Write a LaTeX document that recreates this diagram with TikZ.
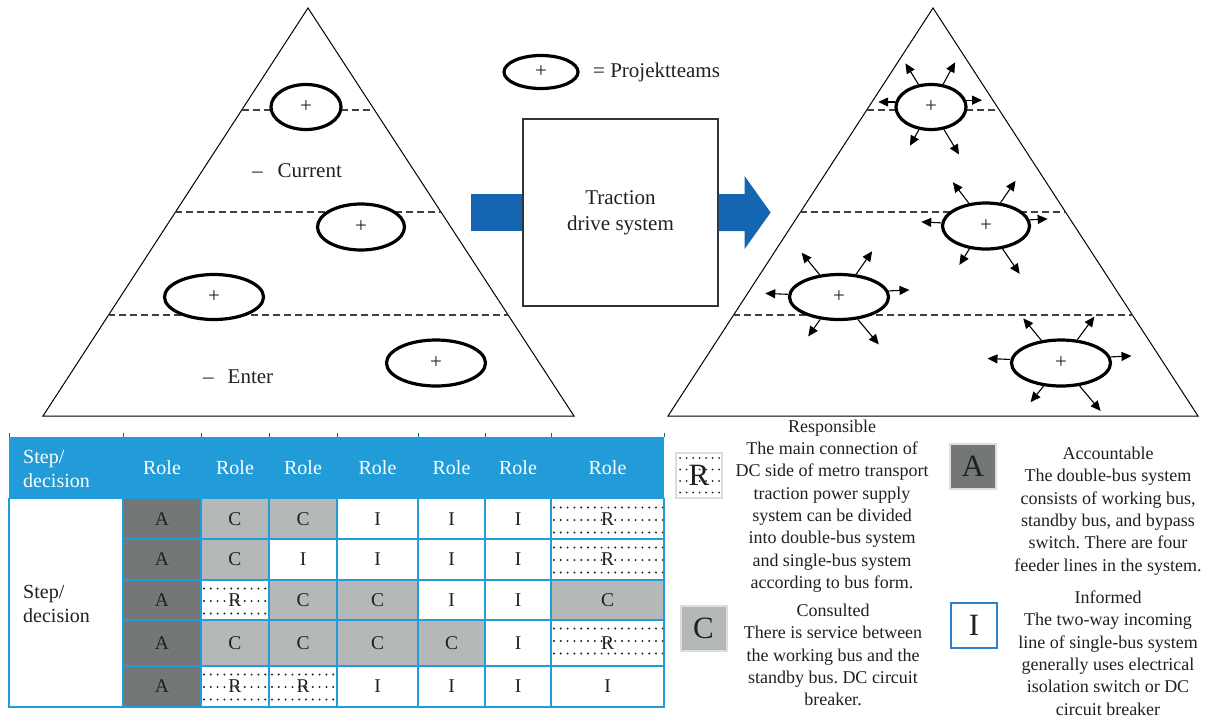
\documentclass[tikz,border=0pt]{standalone}
\usepackage{fontspec}
\setmainfont{Liberation Serif}
\usetikzlibrary{shapes.geometric,arrows.meta,calc}
\definecolor{txt}{HTML}{231F20}
\definecolor{hblue}{HTML}{219CD8}
\definecolor{ablue}{HTML}{1466B3}
\definecolor{cA}{HTML}{747778}
\definecolor{cC}{HTML}{B5B8B9}
\definecolor{iblue}{HTML}{2F7FD0}
\definecolor{lgray}{HTML}{DDDDDD}
\newcommand\fTri{\fontsize{21}{26}\selectfont}
\newcommand\fPlus{\fontsize{21}{21}\selectfont}
\newcommand\fHead{\fontsize{20}{24}\selectfont}
\newcommand\fCell{\fontsize{19.5}{22}\selectfont}
\newcommand\fLeg{\fontsize{18}{22.3}\selectfont\frenchspacing}
\newcommand\fBig{\fontsize{31}{31}\selectfont}
\begin{document}
\begin{tikzpicture}[x=1pt,y=-1pt,
  tri/.style={draw=black, line width=1, line join=miter},
  dashline/.style={draw=black!75, line width=1.4, dash pattern=on 7pt off 4pt},
  team/.style={ellipse, draw=black, line width=3.2, fill=white, inner sep=0, font=\fPlus, text=txt},
  burst/.style={draw=black, line width=1.1, -{Triangle[length=10pt,width=9pt]}},
  centerbox/.style={draw=black!80, line width=1.2, minimum width=195, minimum height=187, align=center, font=\fTri, text=txt, inner sep=0},
  plain/.style={inner sep=0, text=txt},
  tgrid/.style={draw=hblue, line width=2.6, line cap=rect},
  tcell/.style={inner sep=0, draw=none, font=\fCell, text=txt},
  cellA/.style={fill=cA},
  cellC/.style={fill=cC},
  cellI/.style={fill=white},
  cellR/.style={fill=white, path picture={
     \foreach \i in {0,...,17}{\foreach \j in {0,1,2}{
       \fill[txt] ($(path picture bounding box.north west)+(3+\i*6.8,8.5+\j*12.5)$) circle (1.1);}}}},
  dotsL/.style={path picture={
     \foreach \i in {0,...,6}{\foreach \j in {0,1,2,3}{
       \fill[txt] ($(path picture bounding box.north west)+(4+\i*6.5,5+\j*11.5)$) circle (1.0);}}}},
  lbox/.style={draw=lgray, line width=2, inner sep=0, minimum width=46, minimum height=45, font=\fBig, text=txt},
  legtxt/.style={align=center, font=\fLeg, inner sep=0, text=txt}
]
\useasboundingbox (0,0) rectangle (1207,718);

% ---------- left pyramid ----------
\draw[tri] (308,8) -- (43,416) -- (574,416) -- cycle;
\draw[dashline] (242,110) -- (374,110);
\draw[dashline] (175,212) -- (441,212);
\draw[dashline] (108,315) -- (508,315);
\node[team, minimum width=70, minimum height=45] (L1) at (306,107) {+};
\node[team, minimum width=87, minimum height=46] (L2) at (361,227) {+};
\node[team, minimum width=99, minimum height=45] (L3) at (214,297) {+};
\node[team, minimum width=99, minimum height=46] (L4) at (436,363) {+};
\node[plain, anchor=base west, font=\fTri] (cur) at (252,177) {–\hspace{15pt}Current};
\node[plain, anchor=base west, font=\fTri] (ent) at (203,383) {–\hspace{14pt}Enter};

% ---------- legend ellipse ----------
\node[team, minimum width=74, minimum height=33] (key) at (541,72) {+};
\node[plain, anchor=west, font=\fTri] (keytxt) at (593,72) {= Projektteams};

% ---------- centre box and arrows ----------
\node[centerbox] (box) at (620.5,212.5) {Traction\\drive system};
\fill[ablue] ($(box.west)+(-51,-18.5)$) rectangle ($(box.west)+(0,18.5)$);
\fill[ablue] ($(box.east)+(0,-18.5)$) -- ++(26,0) -- ++(0,-18) -- ++(26,36.5)
   -- ++(-26,36.5) -- ++(0,-18) -- ++(-26,0) -- cycle;

% ---------- right pyramid ----------
\draw[tri] (933,8) -- (668,416) -- (1198,416) -- cycle;
\draw[dashline] (867,110) -- (999,110);
\draw[dashline] (800,212) -- (1066,212);
\draw[dashline] (733,315) -- (1133,315);
\node[team, minimum width=70, minimum height=45] (R1) at (931,107) {+};
\node[team, minimum width=87, minimum height=46] (R2) at (986,226) {+};
\node[team, minimum width=99, minimum height=45] (R3) at (839,297) {+};
\node[team, minimum width=99, minimum height=46] (R4) at (1061,363) {+};
\foreach \n/\a/\dx/\dy in {
  R1/119/-13/-21, R1/62/12/-22, R1/172/-17/0, R1/11/16/0, R1/242/-9/16, R1/300/15/25,
  R2/127/-16/-21, R2/58/15/-22, R2/176/-20/-1, R2/8/18/-1, R2/234/-10/16, R2/306/17/25,
  R3/131/-18/-22, R3/53/16/-23, R3/177/-23/-1, R3/7/21/-1, R3/230/-12/17, R3/310/21/25,
  R4/131/-18/-22, R4/55/17/-23, R4/176/-23/-1, R4/7/21/-1, R4/233/-13/16, R4/309/21/25}
  \draw[burst] (\n.\a) -- ++(\dx,\dy);

% ---------- RACI table ----------
\foreach \x in {9,123,201,269,337,418,485,551,664}
  \draw[hblue!60!black, line width=0.8] (\x,433) -- (\x,437);
\fill[hblue] (9,437) rectangle (664,499);
\node[plain, anchor=west, align=left, font=\fHead, text=white] (hsd) at (23,469) {Step/\\decision};
\foreach \xl/\xr [count=\c] in {123/201,201/269,269/337,337/418,418/485,485/551,551/664}
  \node[plain, font=\fHead, text=white] (h\c) at ({(\xl+\xr)/2},468) {Role};
\fill[white] (9,499) rectangle (123,707);
\node[plain, anchor=west, align=left, font=\fHead] (bsd) at (23,604) {Step/\\decision};
\foreach \rowlist [count=\r] in {{A,C,C,I,I,I,R},{A,C,I,I,I,I,R},{A,R,C,C,I,I,C},{A,C,C,C,C,I,R},{A,R,R,I,I,I,I}}{
  \pgfmathsetmacro\yt{{499,539,580,620,666,707}[\r-1]}
  \pgfmathsetmacro\yb{{499,539,580,620,666,707}[\r]}
  \foreach \t [count=\c] in \rowlist {
    \pgfmathsetmacro\xl{{123,201,269,337,418,485,551,664}[\c-1]}
    \pgfmathsetmacro\xr{{123,201,269,337,418,485,551,664}[\c]}
    \pgfmathsetmacro\w{\xr-\xl}
    \pgfmathsetmacro\h{\yb-\yt}
    \pgfmathsetmacro\cx{(\xl+\xr)/2}
    \pgfmathsetmacro\cy{(\yt+\yb)/2}
    \node[tcell, cell\t, minimum width=\w, minimum height=\h] (c\r\c) at (\cx,\cy) {\t};
  }
}
\foreach \x in {9,123,201,269,337,418,485,551,664}
  \draw[tgrid] (\x,499) -- (\x,707);
\foreach \y in {539,580,620,666}
  \draw[tgrid] (123,\y) -- (664,\y);
\draw[tgrid] (9,707) -- (664,707);

% ---------- legend ----------
\node[lbox, fill=white, dotsL] (kR) at (699,475.5) {R};
\node[lbox, fill=cC] (kC) at (703.5,628.5) {C};
\node[lbox, fill=cA] (kA) at (973,466.5) {A};
\node[lbox, draw=iblue, fill=white] (kI) at (974,625.5) {I};
\node[legtxt] (tR) at (832,506) {Responsible\\The main connection of\\DC side of metro transport\\traction power supply\\system can be divided\\into double-bus system\\and single-bus system\\according to bus form.};
\node[legtxt] (tC) at (833,655) {Consulted\\There is service between\\the working bus and the\\standby bus. DC circuit\\breaker.};
\node[legtxt] (tA) at (1108,511) {Accountable\\The double-bus system\\consists of working bus,\\standby bus, and bypass\\switch. There are four\\feeder lines in the system.};
\node[legtxt] (tI) at (1108,653) {Informed\\The two-way incoming\\line of single-bus system\\generally uses electrical\\isolation switch or DC\\circuit breaker};
\end{tikzpicture}
\end{document}
